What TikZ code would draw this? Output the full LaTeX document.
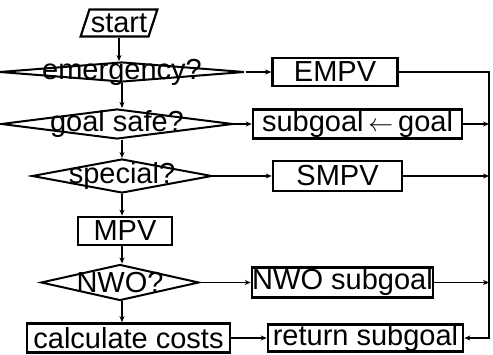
\documentclass[tikz,border=0pt]{standalone}
\usepackage{fontspec}
\setmainfont{Liberation Sans}
\usepackage{tikz}
\usetikzlibrary{calc, positioning, shapes.geometric, arrows.meta}

\begin{document}
\begin{tikzpicture}[
    x=1pt, y=-1pt,
    box/.style={rectangle, draw, line width=2.6pt, inner sep=0pt,
                font=\fontsize{29}{31}\selectfont},
    decision/.style={diamond, draw, line width=2pt, fill=white,
                     inner sep=0pt},
    qtext/.style={inner sep=0pt, font=\fontsize{29}{31}\selectfont},
    flow/.style={line width=1.4pt, -{Stealth[length=6pt, width=5pt]}},
]
    \useasboundingbox (0,0) rectangle (493,355);

    % Nodes
    \node[trapezium, trapezium left angle=66, trapezium right angle=114,
          trapezium stretches=true, draw, line width=2.2pt, inner sep=0pt,
          minimum width=77pt, minimum height=27pt,
          font=\fontsize{29}{31}\selectfont] (start) at (119,23) {start};

    \node[decision, minimum width=245pt, minimum height=20pt] (emg) at (122,72) {};
    \node[qtext] (emgtext) at (emg) {emergency?};
    \node[decision, minimum width=232pt, minimum height=30pt] (gsafe) at (117,124) {};
    \node[qtext] (gsafetext) at (gsafe) {goal safe?};
    \node[decision, minimum width=180pt, minimum height=34pt] (spec) at (122,176) {};
    \node[qtext] (spectext) at (spec) {special?};
    \node[box, minimum width=94pt, minimum height=28pt] (mpv) at (125,231) {MPV};
    \node[decision, minimum width=158pt, minimum height=36pt] (nwo) at (120,282.5) {};
    \node[qtext] (nwotext) at (nwo) {NWO?};
    \node[box, minimum width=203pt, minimum height=29pt] (calc) at (128.5,338) {calculate costs};

    \node[box, minimum width=125pt, minimum height=28pt] (empv) at (335,72) {EMPV};
    \node[box, minimum width=209pt, minimum height=29pt] (subgoal) at (357.5,124)
        {subgoal\,$\leftarrow$\,goal};
    \node[box, minimum width=129pt, minimum height=30pt] (smpv) at (337.5,176) {SMPV};
    \node[box, minimum width=181pt, minimum height=30pt] (nwosub) at (342.5,282.5) {NWO subgoal};
    \node[box, minimum width=195pt, minimum height=27pt] (ret) at (365.5,338) {return subgoal};

    \coordinate (rail) at (489,0);

    % Edges
    \draw[flow] (start.south) -- (start.south |- emg.north);
    \draw[flow] (emg.south) -- (emg.south |- gsafe.north);
    \draw[flow] (emg.south |- gsafe.south) -- (emg.south |- spec.north);
    \draw[flow] (spec.south) -- (spec.south |- mpv.north);
    \draw[flow] (spec.south |- mpv.south) -- (spec.south |- nwo.north);
    \draw[flow] (spec.south |- nwo.south) -- (spec.south |- calc.north);

    \draw[flow] (emg.east) -- (empv.west);
    \draw[flow] (gsafe.east) -- (subgoal.west);
    \draw[flow] (spec.east) -- (smpv.west);
    \draw[flow] (nwo.east) -- (nwosub.west);
    \draw[flow] (calc.east) -- (ret.west);

    % Rail on the right
    \draw[flow] (empv.east) -- (empv.east -| rail) -- (ret.east -| rail) -- (ret.east);
    \draw[flow] (subgoal.east) -- (subgoal.east -| rail);
    \draw[flow] (smpv.east) -- (smpv.east -| rail);
    \draw[flow] (nwosub.east) -- (nwosub.west -| rail);
\end{tikzpicture}
\end{document}
